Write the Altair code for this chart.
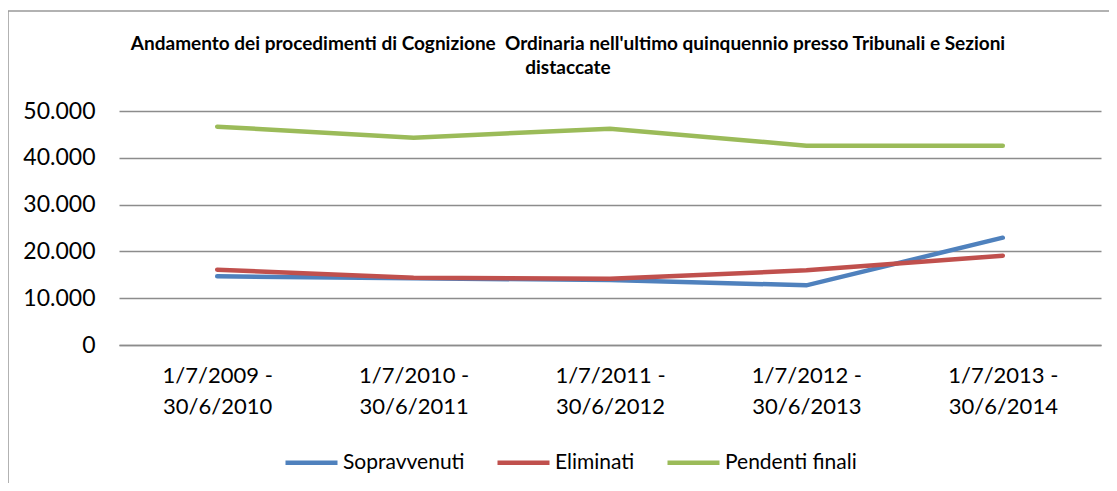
import altair as alt
import pandas as pd

periods = ["1/7/2009 -|30/6/2010", "1/7/2010 -|30/6/2011", "1/7/2011 -|30/6/2012",
           "1/7/2012 -|30/6/2013", "1/7/2013 -|30/6/2014"]
series_names = ["Sopravvenuti", "Eliminati", "Pendenti finali"]
sopravvenuti = [14680, 14250, 13890, 12750, 22930]
eliminati = [16090, 14380, 14170, 15950, 19080]
pendenti = [46650, 44300, 46220, 42590, 42590]
colors = ["#4F81BD", "#C0504D", "#9BBB59"]
title_lines = ["Andamento dei procedimenti di Cognizione\u00a0 Ordinaria nell'ultimo quinquennio presso Tribunali e Sezioni",
               "distaccate"]

rows = []
for name, vals in zip(series_names, [sopravvenuti, eliminati, pendenti]):
    for p, v in zip(periods, vals):
        rows.append({"periodo": p, "serie": name, "valore": v})
df = pd.DataFrame(rows)

FONT = "Lato"

frame = alt.Chart(alt.Data(values=[{}])).mark_rect(
    fill=None, stroke="#999999", strokeWidth=1.5
).encode(x=alt.value(-111), x2=alt.value(1000), y=alt.value(-100), y2=alt.value(400))

lines = alt.Chart(df).mark_line(strokeWidth=4.5, strokeCap="round").encode(
    x=alt.X("periodo:N", sort=periods, title=None,
            scale=alt.Scale(paddingInner=0, paddingOuter=0.5),
            axis=alt.Axis(labelAngle=0, labelExpr="split(datum.value, '|')",
                          ticks=False, domain=True, domainColor="#8C8C8C", domainWidth=1.3,
                          labelPadding=20, labelFontSize=22, labelLineHeight=31,
                          labelFont=FONT, labelColor="#000000", grid=False)),
    y=alt.Y("valore:Q", title=None,
            scale=alt.Scale(domain=[0, 50000], nice=False),
            axis=alt.Axis(values=[0, 10000, 20000, 30000, 40000, 50000],
                          labelExpr="replace(format(datum.value, ','), ',', '.')",
                          ticks=False, domain=False, labelPadding=24, labelFontSize=23,
                          labelFont=FONT, labelColor="#000000",
                          gridColor="#8C8C8C", gridWidth=1.3)),
    color=alt.Color("serie:N", sort=series_names,
                    scale=alt.Scale(domain=series_names, range=colors),
                    legend=alt.Legend(title=None, orient="none", direction="horizontal",
                                      legendX=164, legendY=323,
                                      symbolType="stroke", symbolSize=2704,
                                      symbolStrokeWidth=4.5, labelFontSize=21,
                                      labelFont=FONT, labelColor="#000000",
                                      labelOffset=3, columnPadding=23)),
    order=alt.Order("periodo:N"),
)

chart = alt.layer(frame, lines).properties(
    width=982, height=234,
    title=alt.TitleParams(
        title_lines,
        font=FONT, fontSize=19, fontWeight="bold", color="#000000",
        anchor="middle", dx=-42, offset=-68, lineHeight=24),
    autosize=alt.AutoSizeParams(type="none"),
    padding={"left": 111, "top": 103, "right": 8, "bottom": 138},
).configure_view(stroke=None)

chart.save("out.html", embed_options={"renderer": "svg", "actions": False})
